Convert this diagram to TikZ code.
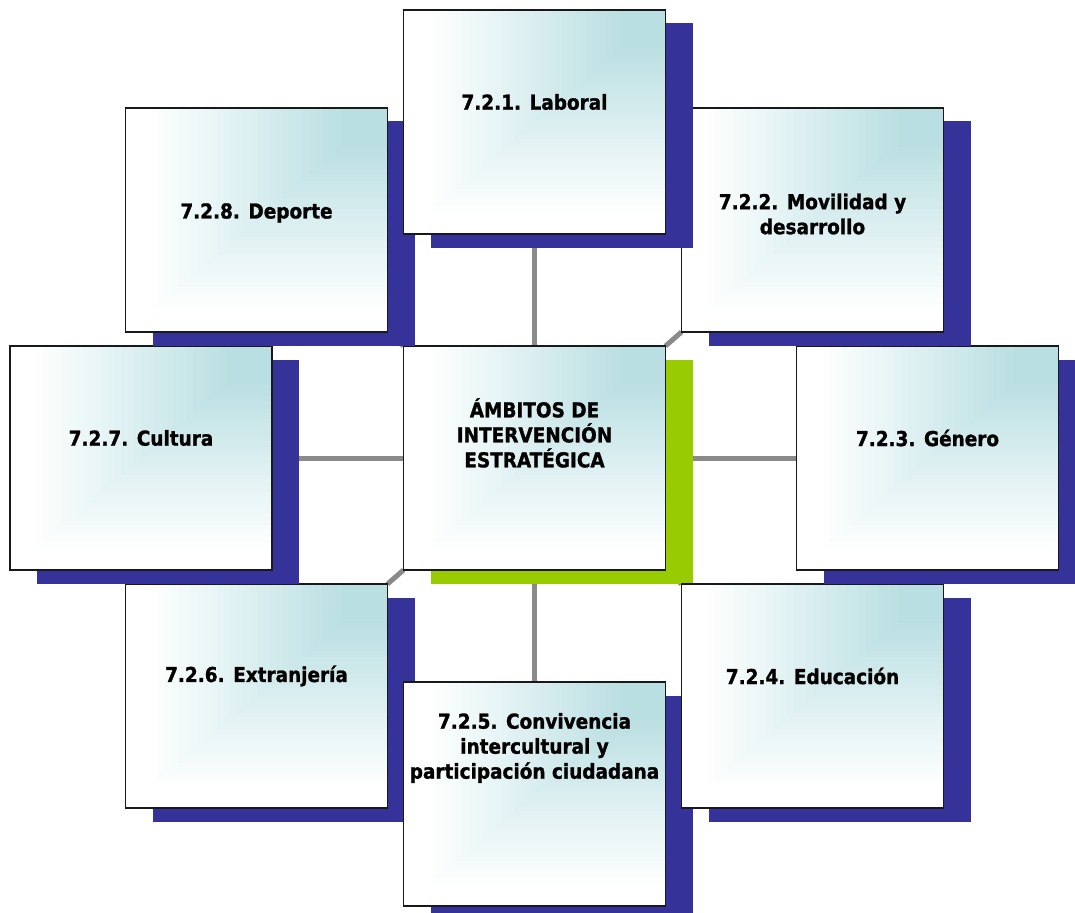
\documentclass[tikz,border=0pt]{standalone}
\usepackage{fontspec}
\newfontfamily\boxfont{DejaVu Sans Condensed}[BoldFont={DejaVu Sans Condensed Bold},BoldFeatures={FakeBold=1.2}]
\usetikzlibrary{backgrounds}
\definecolor{teal0}{RGB}{186,223,226}
\definecolor{shblue}{RGB}{53,51,153}
\definecolor{shgreen}{RGB}{153,204,0}
\definecolor{connc}{RGB}{138,138,138}
\pgfdeclarelayer{bg}
\pgfsetlayers{bg,main}
\tikzset{
  boxnode/.style={draw=black!90, line width=1.6pt, minimum width=262pt, minimum height=224pt, inner sep=0pt, outer sep=0pt},
  lbl/.style={font=\boxfont\bfseries\fontsize{20.5}{25}\selectfont, align=center, text=black, inner sep=0pt},
  connline/.style={draw=connc, line width=5pt},
}
\newcommand\gradbox[4]{%
  \fill[#4] ({#2-131+27},{#3-112+13.5}) rectangle ++(262,224);
  \foreach \k in {0,...,39}{%
    \pgfmathsetmacro\s{1-\k/40}%
    \pgfmathsetmacro\v{max(0,min(100,(0.92-\s)/0.75*100))}%
    \fill[teal0!\v!white] ({#2+131-\s*262},{#3-112}) rectangle ({#2+131},{#3-112+\s*224});
  }
  \node[boxnode] (#1) at (#2,#3) {};
}
\begin{document}
\begin{tikzpicture}[x=1pt,y=-1pt]
\useasboundingbox (0,0) rectangle (1075,912);
\clip (0,0) rectangle (1075,912);
\gradbox{ctr}{534.5}{458}{shgreen}
\gradbox{ext}{256.5}{696}{shblue}
\gradbox{con}{534.5}{794}{shblue}
\gradbox{edu}{812.5}{696}{shblue}
\gradbox{gen}{927.5}{458}{shblue}
\gradbox{mov}{812.5}{220}{shblue}
\gradbox{cul}{141}{458}{shblue}
\gradbox{dep}{256.5}{220}{shblue}
\gradbox{lab}{534.5}{122}{shblue}
\node[lbl] (tctr) at (534.5,433) {ÁMBITOS DE\\INTERVENCIÓN\\ESTRATÉGICA};
\node[lbl] (tlab) at (534.5,102) {7.2.1. Laboral};
\node[lbl] (tmov) at (812.5,214) {7.2.2. Movilidad y\\desarrollo};
\node[lbl] (tgen) at (927.5,438) {7.2.3. Género};
\node[lbl] (tedu) at (812.5,676) {7.2.4. Educación};
\node[lbl] (tcon) at (534.5,748) {7.2.5. Convivencia\\intercultural y\\participación ciudadana};
\node[lbl] (text) at (256.5,676) {7.2.6. Extranjería};
\node[lbl] (tcul) at (141,438) {7.2.7. Cultura};
\node[lbl] (tdep) at (256.5,213) {7.2.8. Deporte};
\begin{pgfonlayer}{bg}
\draw[connline] (lab.south) -- (ctr.north);
\draw[connline] (ctr.south) -- (con.north);
\draw[connline] (ctr.west) -- (cul.east);
\draw[connline] (ctr.east) -- (gen.west);
\draw[connline] (ctr.north east) -- (mov.south west);
\draw[connline] (ctr.south east) -- (edu.north west);
\draw[connline] (ctr.south west) -- (ext.north east);
\draw[connline] (ctr.north west) -- (dep.south east);
\end{pgfonlayer}
\end{tikzpicture}
\end{document}
